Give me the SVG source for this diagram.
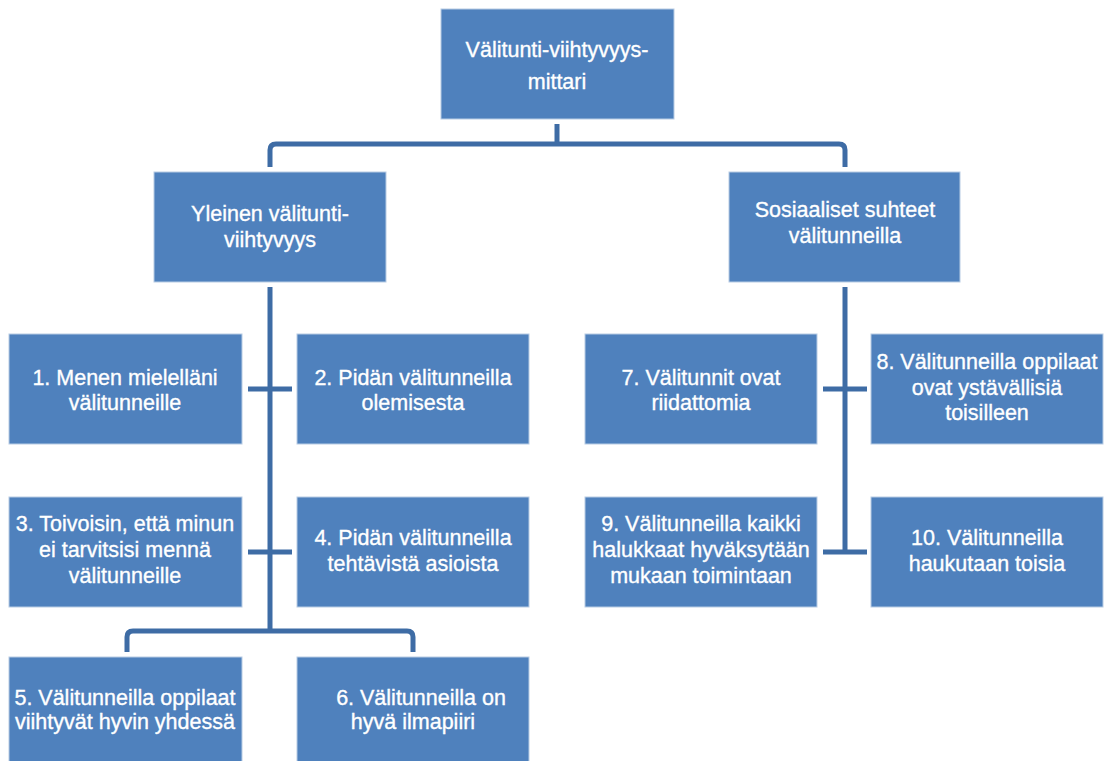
<svg xmlns="http://www.w3.org/2000/svg" width="1108" height="761" viewBox="0 0 1108 761">
<style>
.box{fill:#4f81bd;stroke:#b8cce4;stroke-width:1}
.lbl{font-family:"Liberation Sans",Arial,sans-serif;font-size:21.5px;fill:#ffffff;stroke:#ffffff;stroke-width:0.35;text-anchor:middle}
.conn{fill:none;stroke:#3e6ca5;stroke-width:5;stroke-linecap:butt}
</style>
<rect width="1108" height="761" fill="#ffffff"/>
<g id="connectors">
<path class="conn" d="M557,124 V144"/>
<path class="conn" d="M270,167 V150 Q270,144 276,144 H839 Q845,144 845,150 V167"/>
<path class="conn" d="M270,287 V631"/>
<path class="conn" d="M248,389 H292"/>
<path class="conn" d="M248,552 H292"/>
<path class="conn" d="M127,652 V637 Q127,631 133,631 H407 Q413,631 413,637 V652"/>
<path class="conn" d="M845,287 V552"/>
<path class="conn" d="M823,389 H867"/>
<path class="conn" d="M823,552 H867"/>
</g>
<g id="n0"><rect class="box" x="441" y="9" width="233" height="110"/>
<text class="lbl"><tspan x="557" y="57">Välitunti-viihtyvyys-</tspan><tspan x="557" y="89">mittari</tspan></text></g>
<g id="n1"><rect class="box" x="154" y="172" width="232" height="110"/>
<text class="lbl"><tspan x="270" y="221">Yleinen välitunti-</tspan><tspan x="270" y="247">viihtyvyys</tspan></text></g>
<g id="n2"><rect class="box" x="729" y="172" width="231" height="110"/>
<text class="lbl"><tspan x="845" y="217">Sosiaaliset suhteet</tspan><tspan x="845" y="243">välitunneilla</tspan></text></g>
<g id="q1"><rect class="box" x="9" y="334" width="233" height="110"/>
<text class="lbl"><tspan x="125" y="385">1. Menen mielelläni</tspan><tspan x="125" y="410">välitunneille</tspan></text></g>
<g id="q2"><rect class="box" x="297" y="334" width="232" height="110"/>
<text class="lbl"><tspan x="413" y="385">2. Pidän välitunneilla</tspan><tspan x="413" y="410">olemisesta</tspan></text></g>
<g id="q3"><rect class="box" x="9" y="497" width="233" height="110"/>
<text class="lbl"><tspan x="125" y="531">3. Toivoisin, että minun</tspan><tspan x="125" y="557">ei tarvitsisi mennä</tspan><tspan x="125" y="583">välitunneille</tspan></text></g>
<g id="q4"><rect class="box" x="297" y="497" width="232" height="110"/>
<text class="lbl"><tspan x="413" y="545">4. Pidän välitunneilla</tspan><tspan x="413" y="571">tehtävistä asioista</tspan></text></g>
<g id="q5"><rect class="box" x="9" y="657" width="233" height="110"/>
<text class="lbl"><tspan x="125" y="705">5. Välitunneilla oppilaat</tspan><tspan x="125" y="729">viihtyvät hyvin yhdessä</tspan></text></g>
<g id="q6"><rect class="box" x="297" y="657" width="232" height="110"/>
<text class="lbl"><tspan x="421" y="705">6. Välitunneilla on</tspan><tspan x="413" y="729">hyvä ilmapiiri</tspan></text></g>
<g id="q7"><rect class="box" x="585" y="334" width="232" height="110"/>
<text class="lbl"><tspan x="701" y="385">7. Välitunnit ovat</tspan><tspan x="701" y="410">riidattomia</tspan></text></g>
<g id="q8"><rect class="box" x="871" y="334" width="232" height="110"/>
<text class="lbl"><tspan x="987" y="369">8. Välitunneilla oppilaat</tspan><tspan x="987" y="395">ovat ystävällisiä</tspan><tspan x="987" y="420">toisilleen</tspan></text></g>
<g id="q9"><rect class="box" x="585" y="497" width="232" height="110"/>
<text class="lbl"><tspan x="701" y="531">9. Välitunneilla kaikki</tspan><tspan x="701" y="557">halukkaat hyväksytään</tspan><tspan x="701" y="583">mukaan toimintaan</tspan></text></g>
<g id="q10"><rect class="box" x="871" y="497" width="232" height="110"/>
<text class="lbl"><tspan x="987" y="545">10. Välitunneilla</tspan><tspan x="987" y="571">haukutaan toisia</tspan></text></g>
</svg>
